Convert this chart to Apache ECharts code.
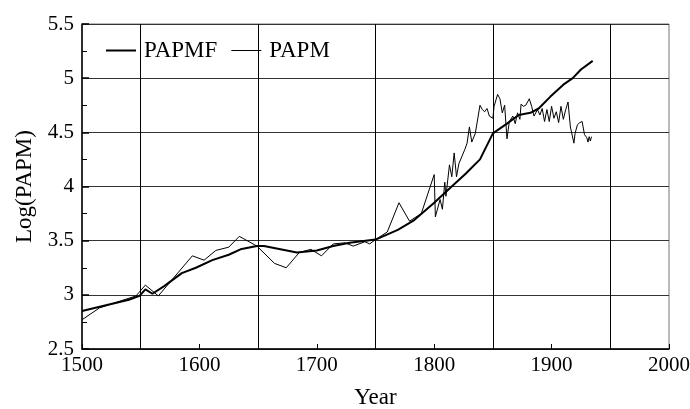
<!DOCTYPE html>
<html><head><meta charset="utf-8">
<script src="https://cdn.jsdelivr.net/npm/echarts@6/dist/echarts.min.js"></script>
<style>html,body{margin:0;padding:0;background:#fff}#c{width:690px;height:409px}</style>
</head><body><div id="c"></div>
<script>
const papmfYears = [1500,1540,1549,1554,1560,1570,1585,1597,1611,1625,1635,1649,1655,1669,1683,1700,1714,1728,1750,1769,1783,1800,1817,1827,1839,1850,1862,1872,1882,1889,1899,1910,1918,1925,1935];
const papmfValues = [2.85,2.955,2.99,3.05,3.01,3.08,3.20,3.25,3.32,3.37,3.42,3.45,3.45,3.42,3.39,3.41,3.45,3.48,3.51,3.60,3.69,3.85,4.02,4.12,4.25,4.49,4.58,4.66,4.68,4.72,4.83,4.94,5.00,5.08,5.16];

const papmYears = [1500,1515,1546,1554,1565,1594,1604,1614,1625,1634,1649,1664,1674,1685,1695,1704,1714,1724,1731,1741,1745,1750,1760,1770,1779,1789,1800,1801,1805,1807,1809,1810,1813,1815,1817,1819,1821,1826,1828,1830,1832,1835,1839,1841,1843,1845,1847,1850,1851,1854,1856,1858,1860,1862,1864,1867,1869,1871,1873,1874,1876,1878,1881,1883,1885,1888,1890,1892,1894,1896,1898,1900,1902,1904,1906,1908,1910,1912,1914,1916,1919,1920,1922,1924,1926,1928,1930,1931,1932,1933,1934];
const papmValues = [2.77,2.88,2.99,3.09,2.99,3.36,3.32,3.41,3.44,3.54,3.45,3.29,3.25,3.39,3.42,3.36,3.47,3.48,3.45,3.49,3.47,3.51,3.58,3.85,3.68,3.75,4.11,3.72,3.88,3.79,4.04,3.91,4.20,4.09,4.31,4.09,4.21,4.34,4.40,4.55,4.41,4.49,4.75,4.71,4.69,4.72,4.65,4.63,4.74,4.85,4.81,4.68,4.75,4.44,4.60,4.65,4.58,4.68,4.62,4.76,4.74,4.75,4.81,4.74,4.65,4.71,4.66,4.72,4.60,4.71,4.60,4.74,4.63,4.69,4.59,4.74,4.62,4.71,4.78,4.55,4.40,4.49,4.57,4.59,4.60,4.48,4.45,4.41,4.46,4.42,4.46];

const xGridYears = [1550,1650,1750,1850,1950];

const FONT = 'Liberation Serif';
const chart = echarts.init(document.getElementById('c'), null, {renderer:'canvas'});
chart.setOption({
  animation:false,
  backgroundColor:'#fff',
  textStyle:{fontFamily:FONT,color:'#000'},
  grid:{left:82,right:21,top:24,bottom:60,show:true,borderColor:'#777',borderWidth:1,containLabel:false,outerBoundsMode:'none'},
  legend:{
    left:101, top:34, itemWidth:32, itemHeight:10, itemGap:14,
    textStyle:{fontFamily:FONT,fontSize:23,color:'#000',padding:[0,0,0,2]},
    data:[
      {name:'PAPMF', icon:'path://M0,4H30V6H0ZM0,0H0.01V0.01H0ZM0,9.99H0.01V10H0Z', itemStyle:{color:'#000'}},
      {name:'PAPM', icon:'path://M0,4.5H30V5.5H0ZM0,0H0.01V0.01H0ZM0,9.99H0.01V10H0Z', itemStyle:{color:'#000'}}
    ]
  },
  xAxis:{
    type:'value', min:1500, max:2000, interval:100,
    name:'Year', nameLocation:'middle', nameGap:37,
    nameTextStyle:{fontFamily:FONT,fontSize:23,color:'#000'},
    axisLine:{show:true,onZero:false,lineStyle:{color:'#000',width:1.5}},
    axisTick:{show:true,inside:true,length:5,lineStyle:{color:'#000'}},
    minorTick:{show:true,splitNumber:2,length:5,lineStyle:{color:'#000'}},
    splitLine:{show:false},
    axisLabel:{fontFamily:FONT,fontSize:21,color:'#000',margin:6,formatter:v=>String(v)}
  },
  yAxis:{
    type:'value', min:2.5, max:5.5, interval:0.5,
    name:'Log(PAPM)', nameLocation:'middle', nameGap:45,
    nameTextStyle:{fontFamily:FONT,fontSize:23,color:'#000'},
    axisLine:{show:true,onZero:false,lineStyle:{color:'#000',width:1.5}},
    axisTick:{show:true,inside:true,length:7,lineStyle:{color:'#000',width:1.5}},
    minorTick:{show:true,splitNumber:2,length:5,lineStyle:{color:'#000'}},
    splitLine:{show:true,lineStyle:{color:'#333',width:1}},
    axisLabel:{fontFamily:FONT,fontSize:21,color:'#000',margin:8,formatter:v=>String(v)}
  },
  series:[
    {
      name:'PAPMF', type:'line', symbol:'none',
      lineStyle:{color:'#000',width:2},
      itemStyle:{color:'#000'},
      data:papmfYears.map((y,i)=>[y,papmfValues[i]]),
      markLine:{
        silent:true, symbol:'none', label:{show:false},
        lineStyle:{color:'#000',width:1,type:'solid'},
        data:xGridYears.map(v=>({xAxis:v}))
      },
      z:3
    },
    {
      name:'PAPM', type:'line', symbol:'none',
      lineStyle:{color:'#000',width:1},
      itemStyle:{color:'#000'},
      data:papmYears.map((y,i)=>[y,papmValues[i]]),
      z:3
    }
  ]
});
</script>
</body></html>
